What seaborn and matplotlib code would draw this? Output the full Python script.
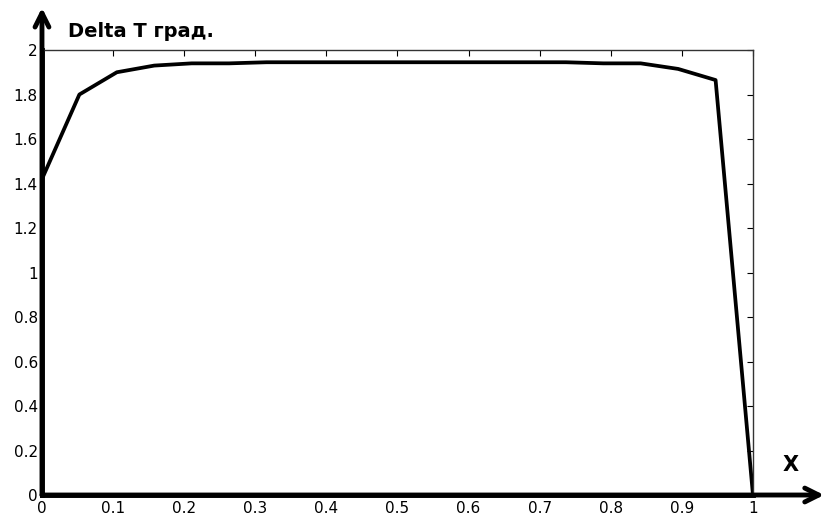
import matplotlib
matplotlib.use('Agg')
import matplotlib.pyplot as plt
import seaborn as sns
import pandas as pd
import numpy as np

# x positions: 20 nodes on [0, 1]
x_vals = [0.0, 0.0526, 0.1053, 0.1579, 0.2105, 0.2632, 0.3158, 0.3684, 0.4211, 0.4737,
          0.5263, 0.5789, 0.6316, 0.6842, 0.7368, 0.7895, 0.8421, 0.8947, 0.9474, 1.0]
delta_t = [1.42, 1.80, 1.90, 1.93, 1.94, 1.94, 1.945, 1.945, 1.945, 1.945,
           1.945, 1.945, 1.945, 1.945, 1.945, 1.94, 1.94, 1.915, 1.865, 0.0]

x_ticks = [0, 0.1, 0.2, 0.3, 0.4, 0.5, 0.6, 0.7, 0.8, 0.9, 1]
x_tick_labels = ['0', '0.1', '0.2', '0.3', '0.4', '0.5', '0.6', '0.7', '0.8', '0.9', '1']
y_ticks = [0, 0.2, 0.4, 0.6, 0.8, 1, 1.2, 1.4, 1.6, 1.8, 2]
y_tick_labels = ['0', '0.2', '0.4', '0.6', '0.8', '1', '1.2', '1.4', '1.6', '1.8', '2']

df = pd.DataFrame({"x": x_vals, "dt": delta_t})

sns.set_style("white")
plt.rcParams['font.family'] = ['DejaVu Sans']
plt.rcParams['text.color'] = 'black'

fig = plt.figure(figsize=(8.28, 5.15), dpi=100)
ax = fig.add_axes([0.0507, 0.0388, 0.8587, 0.8641])

sns.lineplot(data=df, x="x", y="dt", color="black", linewidth=2.7, ax=ax)

ax.set_xlim(0, 1)
ax.set_ylim(0, 2)
ax.set_xticks(x_ticks)
ax.set_xticklabels(x_tick_labels)
ax.set_yticks(y_ticks)
ax.set_yticklabels(y_tick_labels)
ax.set_xlabel("")
ax.set_ylabel("")
ax.tick_params(direction='in', length=4, width=0.8, labelsize=11,
               top=True, right=True, pad=3, colors='black')
ax.tick_params(axis='x', pad=4)

for side in ['top', 'right']:
    ax.spines[side].set_linewidth(1.0)
    ax.spines[side].set_color('#333333')
for side in ['left', 'bottom']:
    ax.spines[side].set_linewidth(3.5)
    ax.spines[side].set_color('black')

# axis arrows
ax.annotate('', xy=(0, 1.095), xytext=(0, 0), xycoords='axes fraction',
            arrowprops=dict(arrowstyle='->,head_width=0.5,head_length=1.0', lw=3.5, color='black',
                            shrinkA=0, shrinkB=0), annotation_clip=False)
ax.annotate('', xy=(1.1, 0), xytext=(0, 0), xycoords='axes fraction',
            arrowprops=dict(arrowstyle='->,head_width=0.5,head_length=1.0', lw=3.5, color='black',
                            shrinkA=0, shrinkB=0), annotation_clip=False)

fig.text(0.082, 0.938, "Delta T град.", fontsize=14, fontweight='bold', va='center', ha='left',
         color='black')
fig.text(0.955, 0.097, "X", fontsize=15, fontweight='bold', va='center', ha='center', color='black')

plt.savefig("out.png", dpi=100)
plt.close()
